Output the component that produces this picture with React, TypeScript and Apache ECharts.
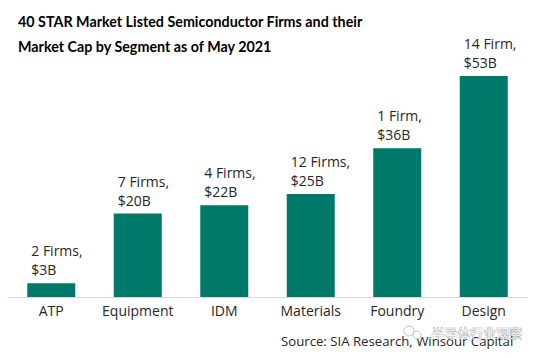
import React, { useEffect, useRef } from "react";
import * as echarts from "echarts";

const categories = ["ATP", "Equipment", "IDM", "Materials", "Foundry", "Design"];
const marketCap = [3.3, 20, 22, 24.7, 35.7, 53];
const firmLabels = ["2 Firms,", "7 Firms,", "4 Firms,", "12 Firms,", "1 Firm,", "14 Firm,"];
const capLabels = ["$3B", "$20B", "$22B", "$25B", "$36B", "$53B"];
const titleLines = [
  "40 STAR Market Listed Semiconductor Firms and their",
  "Market Cap by Segment as of May 2021",
];
const sourceText = "Source: SIA Research, Winsour Capital";
const watermarkText = "半导体行业观察";

const BODY = "'Open Sans', 'Noto Sans', sans-serif";

export default function App() {
  const ref = useRef<HTMLDivElement>(null);
  useEffect(() => {
    const chart = echarts.init(ref.current!, null, { renderer: "svg" });
    chart.setOption({
      animation: false,
      backgroundColor: "#ffffff",
      grid: { left: 8, right: 11, top: 76, bottom: 61, containLabel: false },
      xAxis: {
        type: "category",
        data: categories,
        axisTick: { show: false },
        axisLine: { lineStyle: { color: "#d9d9d9", width: 1 } },
        axisLabel: {
          color: "#262626",
          fontFamily: BODY,
          fontSize: 14,
          margin: 6,
          interval: 0,
        },
      },
      yAxis: { type: "value", min: 0, max: 53, show: false, splitLine: { show: false } },
      series: [
        {
          type: "bar",
          barWidth: 48,
          itemStyle: { color: "#00786a" },
          data: marketCap,
          label: {
            show: true,
            position: "top",
            align: "left",
            offset: [-20, -1],
            distance: 3,
            color: "#262626",
            fontFamily: BODY,
            fontSize: 14,
            lineHeight: 19,
            formatter: (p: any) => `${firmLabels[p.dataIndex]}\n${capLabels[p.dataIndex]}`,
          },
        },
      ],
      graphic: [
        {
          type: "text",
          left: 18,
          top: 14,
          style: {
            text: titleLines[0],
            fill: "#000000",
            font: "bold 14.3px Lato, sans-serif",
          },
        },
        {
          type: "text",
          left: 18,
          top: 39,
          style: {
            text: titleLines[1],
            fill: "#000000",
            font: "bold 14.3px Lato, sans-serif",
          },
        },
        {
          type: "text",
          left: 281,
          top: 334,
          style: { text: sourceText, fill: "#262626", font: `13.2px ${BODY}` },
        },
        {
          type: "text",
          left: 431,
          top: 326,
          style: {
            text: watermarkText,
            fill: "rgba(255,255,255,0.9)",
            stroke: "rgba(70,70,70,0.6)",
            lineWidth: 0.7,
            font: "13px 'Noto Sans CJK SC', sans-serif",
          },
        },
        {
          type: "circle",
          shape: { cx: 409, cy: 331, r: 5 },
          style: { fill: "rgba(255,255,255,0.85)", stroke: "rgba(90,90,90,0.5)", lineWidth: 0.7 },
        },
        {
          type: "circle",
          shape: { cx: 417, cy: 335, r: 4 },
          style: { fill: "rgba(255,255,255,0.85)", stroke: "rgba(90,90,90,0.5)", lineWidth: 0.7 },
        },
      ],
    });
    return () => chart.dispose();
  }, []);
  return <div ref={ref} style={{ width: 538, height: 358, position: "absolute", left: 0, top: 0 }} />;
}
